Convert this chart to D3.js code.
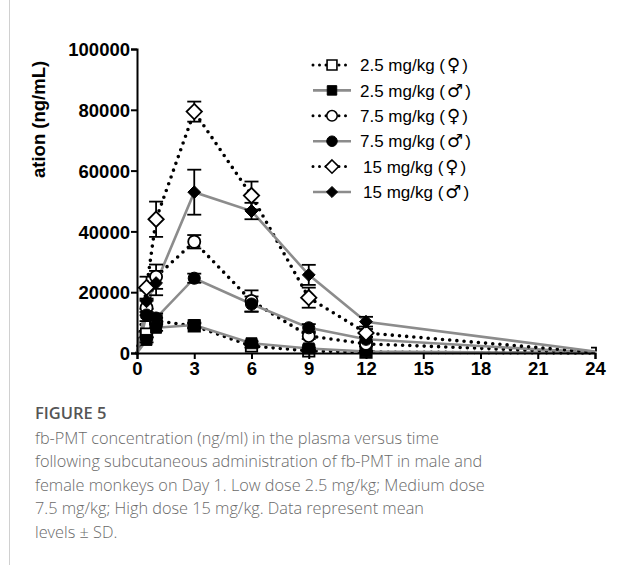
<!DOCTYPE html>
<html>
<head>
<meta charset="utf-8">
<script src="https://cdn.jsdelivr.net/npm/d3@7"></script>
<style>
body { margin: 0; background: #fff; }
svg { display: block; }
</style>
</head>
<body>
<svg></svg>
<script>
// time points (h)
var times = [0, 0.5, 1, 3, 6, 9, 12, 24];

// mean plasma concentration (ng/mL)
var f25 = [0, 6200, 10600, 8900, 2300, 700, 300, 0];
var m25 = [0, 4300, 8300, 9200, 3200, 1500, 500, 0];
var f75 = [0, 14900, 25100, 36600, 17100, 5600, 3000, 100];
var m75 = [0, 12500, 11500, 24600, 16100, 8300, 4500, 100];
var f15 = [0, 21500, 44000, 79400, 51800, 18200, 6600, 200];
var m15 = [0, 17000, 23000, 52900, 46700, 25700, 10300, 500];

// SD
var f25sd = [0, 1000, 1000, 800, 500, 300, 200, 100];
var m25sd = [0, 800, 1000, 800, 600, 300, 200, 100];
var f75sd = [0, 2500, 4000, 2200, 3500, 1000, 800, 200];
var m75sd = [0, 2000, 1500, 1500, 2500, 1200, 800, 200];
var f15sd = [0, 3600, 5800, 3300, 4600, 3300, 1300, 300];
var m15sd = [0, 3500, 4000, 7400, 2700, 3300, 1600, 500];

var legendDoses = ["2.5 mg/kg", "2.5 mg/kg", "7.5 mg/kg", "7.5 mg/kg", "15 mg/kg", "15 mg/kg"];
var legendSex = ["\u2640", "\u2642", "\u2640", "\u2642", "\u2640", "\u2642"];
var xTicks = [0, 3, 6, 9, 12, 15, 18, 21, 24];
var yTicks = [0, 20000, 40000, 60000, 80000, 100000];

var captionTitle = "FIGURE 5";
var captionLines = [
    "fb-PMT concentration (ng/ml) in the plasma versus time",
    "following subcutaneous administration of fb-PMT in male and",
    "female monkeys on Day 1. Low dose 2.5 mg/kg; Medium dose",
    "7.5 mg/kg; High dose 15 mg/kg. Data represent mean",
    "levels \u00b1 SD."
];

var series = [
    {values: f25, sd: f25sd, shape: "square", open: true},
    {values: m25, sd: m25sd, shape: "square", open: false},
    {values: f75, sd: f75sd, shape: "circle", open: true},
    {values: m75, sd: m75sd, shape: "circle", open: false},
    {values: f15, sd: f15sd, shape: "diamond", open: true},
    {values: m15, sd: m15sd, shape: "diamond", open: false}
];

var screen = {width: 617, height: 565};
var plot = {left: 137, right: 595, top: 49, bottom: 353};

var svg = d3.select("svg")
    .attr("width", screen.width)
    .attr("height", screen.height);

// left border of the page column
svg.append("line")
    .attr("x1", 9.5).attr("x2", 9.5)
    .attr("y1", 0).attr("y2", screen.height)
    .attr("stroke", "#d0d0d0").attr("stroke-width", 1);

var xScale = d3.scaleLinear().domain([0, 24]).range([plot.left, plot.right]);
var yScale = d3.scaleLinear().domain([0, 100000]).range([plot.bottom, plot.top]);

var symbolFor = function(s, small)
{
    var k = small ? 0.75 : 1;
    if (s.shape == "square") return d3.symbol().type(d3.symbolSquare).size((s.open ? 130 : 120) * k);
    if (s.shape == "circle") return d3.symbol().type(d3.symbolCircle).size(115 * k);
    return d3.symbol().type(d3.symbolDiamond2).size((s.open ? 150 : 105) * k);
}

var styleLine = function(sel, s)
{
    if (s.open)
    {
        sel.attr("stroke", "#000")
            .attr("stroke-width", 3.6)
            .attr("stroke-linecap", "round")
            .attr("stroke-dasharray", "0,7.2");
    }
    else
    {
        sel.attr("stroke", "#8c8c8c")
            .attr("stroke-width", 2.6);
    }
}

var line = d3.line()
    .x(function(d){return xScale(d.t);})
    .y(function(d){return yScale(d.v);});

var pointsOf = function(s)
{
    return times.map(function(t, i){return {t: t, v: s.values[i], sd: s.sd[i]};});
}

// lines
series.forEach(function(s)
{
    svg.append("path")
        .datum(pointsOf(s))
        .attr("d", line)
        .attr("fill", "none")
        .call(styleLine, s);
});

// error bars (none drawn at the end points, they sit on the axis)
series.forEach(function(s)
{
    var g = svg.append("g");
    var pts = pointsOf(s).filter(function(d){return d.sd > 0 && d.t > 0 && d.t < 24;});
    g.selectAll("line.v").data(pts).enter().append("line")
        .attr("x1", function(d){return xScale(d.t);})
        .attr("x2", function(d){return xScale(d.t);})
        .attr("y1", function(d){return yScale(d.v + d.sd);})
        .attr("y2", function(d){return yScale(Math.max(0, d.v - d.sd));})
        .attr("stroke", "#000").attr("stroke-width", 1.8);
    [1, -1].forEach(function(sign)
    {
        g.selectAll("line.c" + sign).data(pts).enter().append("line")
            .attr("x1", function(d){return xScale(d.t) - 7;})
            .attr("x2", function(d){return xScale(d.t) + 7;})
            .attr("y1", function(d){return yScale(Math.max(0, d.v + sign * d.sd));})
            .attr("y2", function(d){return yScale(Math.max(0, d.v + sign * d.sd));})
            .attr("stroke", "#000").attr("stroke-width", 1.8);
    });
});

// small cap at 24 h
var last = times.length - 1;
svg.append("path")
    .attr("d", "M" + (xScale(24) - 4) + "," + yScale(m15[last] + m15sd[last] + 800) +
               "h5v" + (yScale(m15[last]) - yScale(m15[last] + m15sd[last] + 800)))
    .attr("fill", "none").attr("stroke", "#000").attr("stroke-width", 1.8);

// markers (end points are hidden behind the axes in the original)
series.forEach(function(s)
{
    svg.append("g").selectAll("path")
        .data(pointsOf(s).filter(function(d){return d.t > 0 && d.t < 24;}))
        .enter()
        .append("path")
        .attr("d", symbolFor(s))
        .attr("transform", function(d){return "translate(" + xScale(d.t) + "," + yScale(d.v) + ")";})
        .attr("fill", s.open ? "#fff" : "#000")
        .attr("stroke", "#000")
        .attr("stroke-width", s.open ? 1.8 : 1);
});

// axes
var xAxis = svg.append("g")
    .attr("transform", "translate(0," + plot.bottom + ")")
    .call(d3.axisBottom(xScale).tickValues(xTicks).tickSize(6).tickPadding(3).tickFormat(d3.format("d")));
var yAxis = svg.append("g")
    .attr("transform", "translate(" + plot.left + ",0)")
    .call(d3.axisLeft(yScale).tickValues(yTicks).tickSize(6).tickPadding(1).tickFormat(d3.format("d")));

[xAxis, yAxis].forEach(function(a)
{
    a.select(".domain").attr("stroke", "#000").attr("stroke-width", 2);
    a.selectAll(".tick line").attr("stroke", "#000").attr("stroke-width", 2);
    a.selectAll(".tick text")
        .attr("fill", "#000")
        .style("font-family", "'Liberation Sans', Arial, sans-serif")
        .style("font-weight", "bold")
        .style("font-size", "18.5px");
});
yAxis.selectAll(".tick text").attr("dy", "0.36em");

svg.append("text")
    .attr("transform", "translate(45,178) rotate(-90)")
    .attr("text-anchor", "start")
    .style("font-family", "'Liberation Sans', Arial, sans-serif")
    .style("font-weight", "bold")
    .style("font-size", "18.5px")
    .text("ation (ng/mL)");

// legend
var legend = svg.append("g");
series.forEach(function(s, i)
{
    var y = 65 + i * 25.4;
    var row = legend.append("g");
    var seg = row.append("line")
        .attr("x1", 313).attr("x2", 351)
        .attr("y1", y).attr("y2", y)
        .call(styleLine, s);
    if (s.open) seg.attr("stroke-width", 3).attr("stroke-dasharray", "0,6.5");
    row.append("path")
        .attr("d", symbolFor(s, true))
        .attr("transform", "translate(332," + y + ")")
        .attr("fill", s.open ? "#fff" : "#000")
        .attr("stroke", "#000")
        .attr("stroke-width", s.open ? 1.6 : 1);
    var t = row.append("text")
        .attr("x", s.shape == "diamond" ? 363 : 360)
        .attr("y", y)
        .attr("dy", "0.36em")
        .style("font-family", "'Liberation Sans', Arial, sans-serif")
        .style("font-size", "17px");
    t.append("tspan").text(legendDoses[i] + " (");
    t.append("tspan").attr("dx", 2).style("font-family", "'DejaVu Sans', sans-serif").style("font-size", "18px").text(legendSex[i]);
    t.append("tspan").attr("dx", 2).text(")");
});

// caption
svg.append("text")
    .attr("x", 35).attr("y", 419)
    .attr("fill", "#555")
    .style("font-family", "'Open Sans', sans-serif")
    .style("font-weight", "600")
    .style("font-size", "16.5px")
    .text(captionTitle);

svg.append("g").selectAll("text")
    .data(captionLines)
    .enter()
    .append("text")
    .attr("x", 35)
    .attr("y", function(d, i){return 444 + i * 23.4;})
    .attr("fill", "#6a6a6a")
    .style("font-family", "'Open Sans', sans-serif")
    .style("font-weight", "300")
    .style("font-size", "16.3px")
    .text(function(d){return d;});
</script>
</body>
</html>
